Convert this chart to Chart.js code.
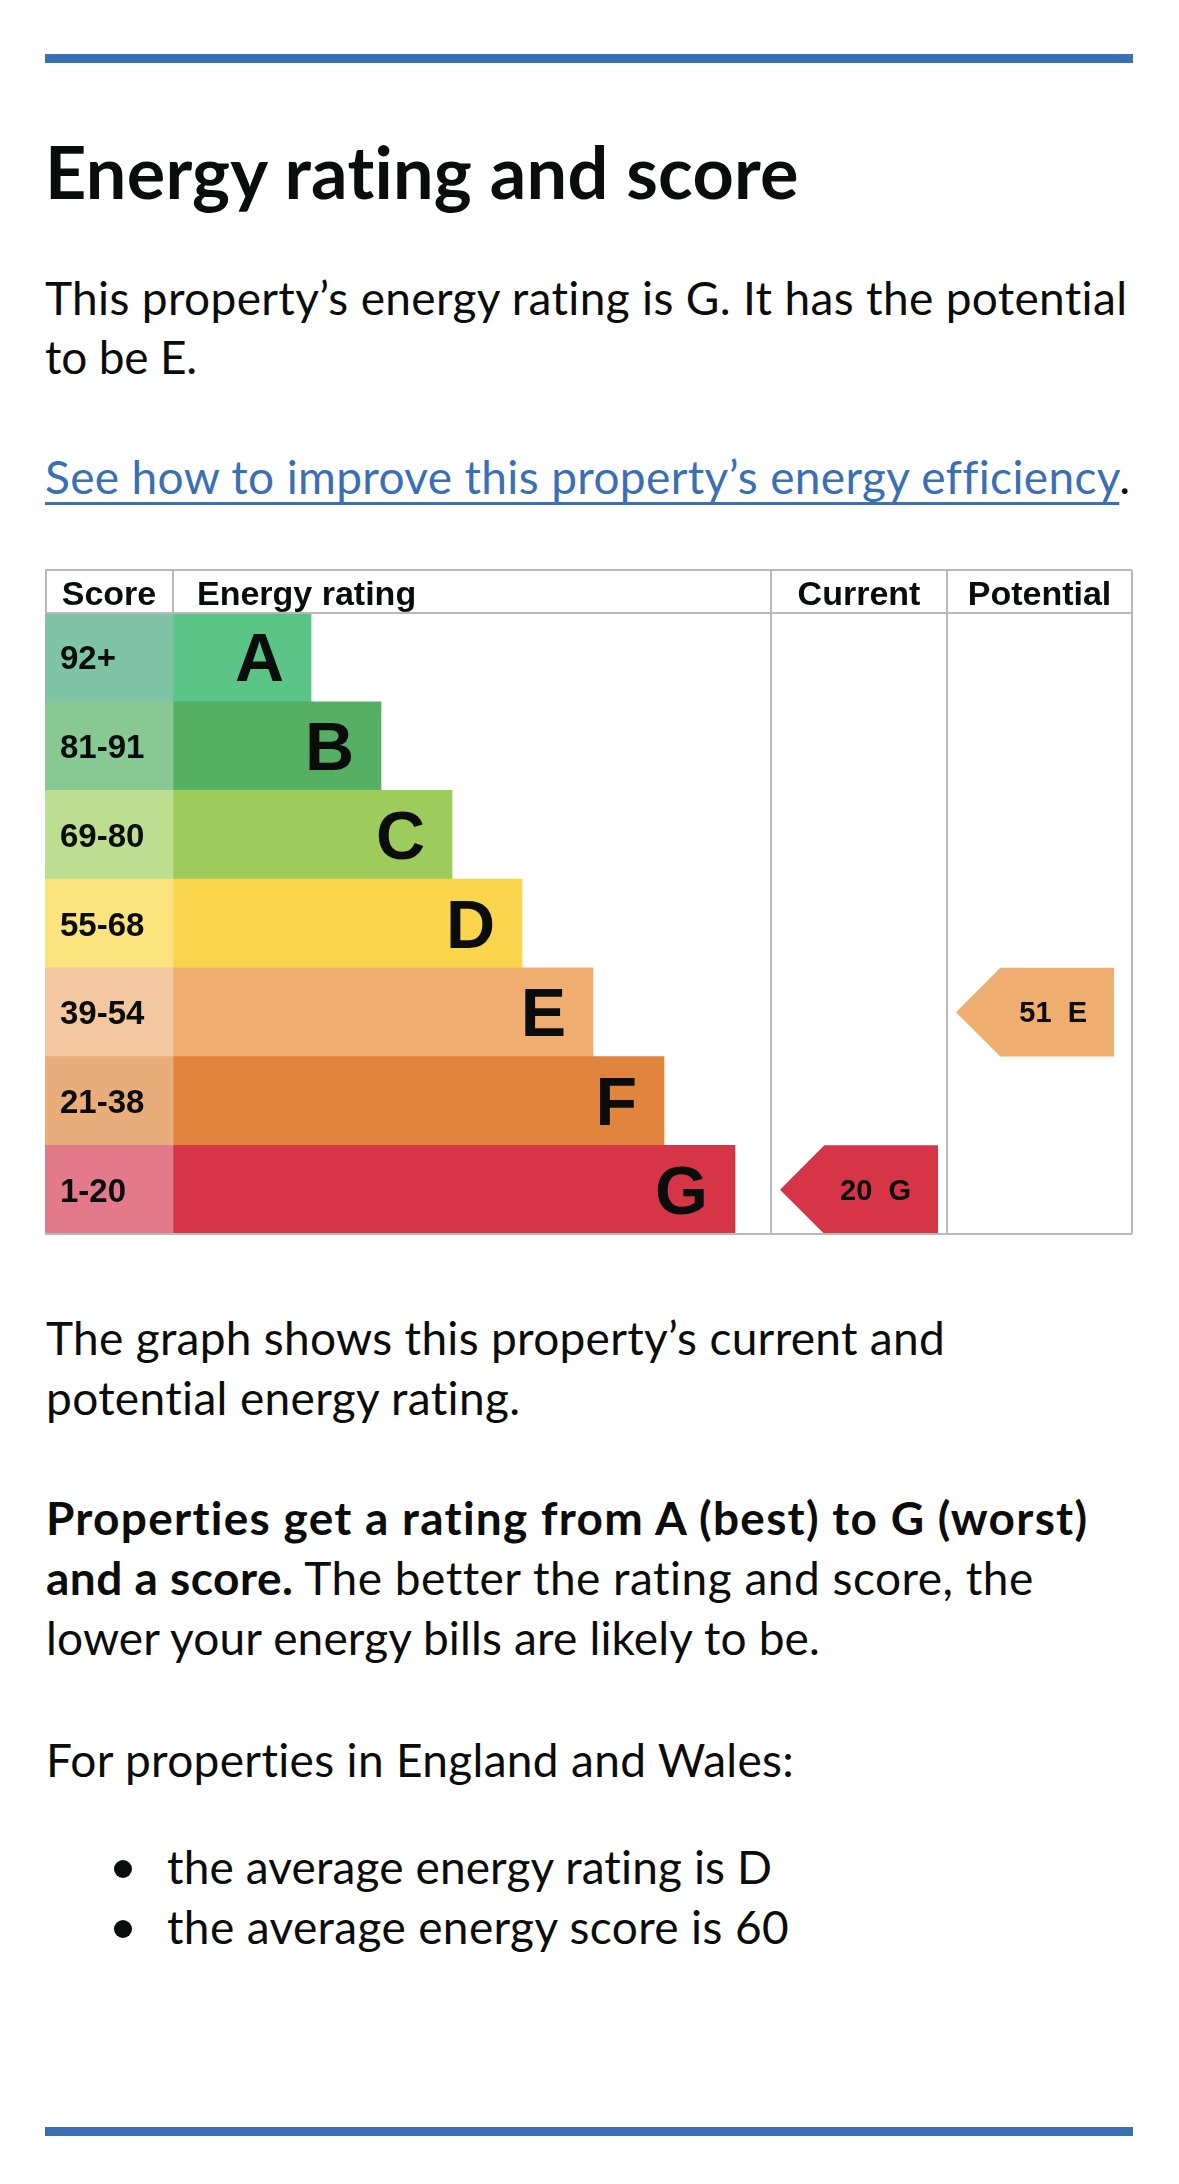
<!DOCTYPE html>
<html lang="en">
<head>
<meta charset="utf-8">
<title>Energy rating and score</title>
<script src="https://cdn.jsdelivr.net/npm/chart.js@4.4.1/dist/chart.umd.min.js"></script>
<style>
  html, body { margin: 0; padding: 0; background: #fff; }
  body { width: 1179px; height: 2184px; position: relative; overflow: hidden;
         font-family: Lato, "Noto Sans", sans-serif; color: #0b0c0c; }
  .rule { position: absolute; left: 45px; width: 1088px; height: 9px; background: #3b6fb4; }
  .line { position: absolute; white-space: nowrap; line-height: normal; }
  .body { font-size: 46px; font-weight: 400; }
  .bold { font-weight: 700; }
  .h1 { font-size: 72px; font-weight: 700; }
  .link { color: #3b6fb4; text-decoration: underline; text-decoration-thickness: 3px; text-underline-offset: 8px; }
  .dot { position: absolute; width: 18px; height: 18px; border-radius: 50%; background: #0b0c0c; }
  #chartBox { position: absolute; left: 45px; top: 569px; width: 1088px; height: 667px; }
</style>
</head>
<body>
<div class="rule" style="top:54px"></div>
<div class="rule" style="top:2127px"></div>
<div class="dot" style="left:114px; top:1860px"></div>
<div class="dot" style="left:114px; top:1920px"></div>
<div id="chartBox"><canvas id="epcChart" width="1088" height="667"></canvas></div>

<script>
// dữ liệu biểu đồ
const ratings = ['A', 'B', 'C', 'D', 'E', 'F', 'G'];
const scoreBands = ['92+', '81-91', '69-80', '55-68', '39-54', '21-38', '1-20'];
const barLengths = [138, 208, 279, 349, 420, 491, 562];
const barColours = ['#5bc587', '#55b064', '#9ecc5c', '#f8d54b', '#efad70', '#e0843e', '#d63547'];
const scoreColours = ['#7fc4a5', '#88c993', '#bddd91', '#fbe37e', '#f3c8a1', '#e9ad7b', '#e37a8b'];
const currentScore = 20, currentRating = 'G';
const potentialScore = 51, potentialRating = 'E';
const headers = ['Score', 'Energy rating', 'Current', 'Potential'];

// cột của bảng, theo đơn vị trục x
const cols = { score: [0, 128], rating: [128, 726], current: [726, 902], potential: [902, 1087] };
const arrowInset = 9, arrowWidth = 158;

// các dòng chữ của trang: [text, baseline, x, class, target width]
const textLines = [
    ['Energy rating and score', 199, 45, 'h1', 755],
    ['This property\u2019s energy rating is G. It has the potential', 315, 45, 'body', 1084],
    ['to be E.', 374, 45, 'body', 152],
    ['The graph shows this property\u2019s current and', 1355, 46, 'body', 899],
    ['potential energy rating.', 1415, 46, 'body', 476],
    ['<span class="bold">Properties get a rating from A (best) to G (worst)</span>', 1535, 46, 'body', 1044],
    ['<span class="bold">and a score.</span> The better the rating and score, the', 1595, 46, 'body', 987],
    ['lower your energy bills are likely to be.', 1655, 46, 'body', 774],
    ['For properties in England and Wales:', 1777, 46, 'body', 749],
    ['the average energy rating is D', 1884, 167, 'body', 606],
    ['the average energy score is 60', 1944, 167, 'body', 622],
    ['<span class="link">See how to improve this property\u2019s energy efficiency</span>.', 494, 45, 'body', 1083],
];

function placeLines() {
    textLines.forEach(([html, baseline, x, cls, target]) => {
        const div = document.createElement('div');
        div.className = 'line ' + cls;
        div.innerHTML = html + '<span style="display:inline-block;width:0;height:0;vertical-align:baseline"></span>';
        div.style.left = x + 'px';
        div.style.top = '0px';
        document.body.appendChild(div);
        const marker = div.lastChild;
        const natural = div.getBoundingClientRect().width;
        const n = div.textContent.length;
        if (target && n > 1) div.style.letterSpacing = ((target - natural) / n) + 'px';
        div.style.top = (baseline - marker.offsetTop) + 'px';
    });
}

const epcTable = {
    id: 'epcTable',
    afterDatasetsDraw(chart) {
        const { ctx, chartArea, scales: { x, y } } = chart;
        const top = 1, headBottom = chartArea.top, bottom = chartArea.bottom;
        ctx.save();

        // mũi tên Current / Potential
        [2, 3].forEach(di => {
            const ds = chart.data.datasets[di];
            chart.getDatasetMeta(di).data.forEach((el, i) => {
                if (!ds.data[i]) return;
                const p = el.getProps(['x', 'y', 'base', 'height'], true);
                const t = p.y - p.height / 2, b = p.y + p.height / 2, tip = p.height / 2;
                ctx.fillStyle = ds.arrowColour;
                ctx.beginPath();
                ctx.moveTo(p.base, p.y);
                ctx.lineTo(p.base + tip, t);
                ctx.lineTo(p.x, t);
                ctx.lineTo(p.x, b);
                ctx.lineTo(p.base + tip, b);
                ctx.closePath();
                ctx.fill();
                ctx.fillStyle = '#0b0c0c';
                ctx.font = 'bold 29px "Liberation Sans", Arial, sans-serif';
                ctx.textAlign = 'right';
                ctx.textBaseline = 'alphabetic';
                ctx.fillText(ds.arrowText, p.x - 27, p.y + 10);
            });
        });

        // chữ trong thanh và cột điểm
        ctx.fillStyle = '#0b0c0c';
        ctx.textBaseline = 'alphabetic';
        ratings.forEach((r, i) => {
            const cy = y.getPixelForValue(i);
            ctx.font = 'bold 68px "Liberation Sans", Arial, sans-serif';
            ctx.textAlign = 'right';
            ctx.fillText(r, x.getPixelForValue(cols.rating[0] + barLengths[i]) - 27, cy + 24);
            ctx.font = 'bold 33px "Liberation Sans", Arial, sans-serif';
            ctx.textAlign = 'left';
            ctx.fillText(scoreBands[i], x.getPixelForValue(15), cy + 12);
        });

        // tiêu đề cột
        ctx.font = 'bold 34px "Liberation Sans", Arial, sans-serif';
        const hy = 36;
        ctx.textAlign = 'center';
        ctx.fillText(headers[0], x.getPixelForValue((cols.score[0] + cols.score[1]) / 2), hy);
        ctx.fillText(headers[2], x.getPixelForValue((cols.current[0] + cols.current[1]) / 2), hy);
        ctx.fillText(headers[3], x.getPixelForValue((cols.potential[0] + cols.potential[1]) / 2), hy);
        ctx.textAlign = 'left';
        ctx.fillText(headers[1], x.getPixelForValue(cols.rating[0] + 24), hy);

        // đường kẻ bảng
        ctx.strokeStyle = '#b7b9bb';
        ctx.lineWidth = 2;
        const px = v => x.getPixelForValue(v);
        ctx.beginPath();
        ctx.moveTo(px(0), top); ctx.lineTo(px(cols.potential[1]), top);
        ctx.moveTo(px(0), headBottom); ctx.lineTo(px(cols.potential[1]), headBottom);
        ctx.moveTo(px(0), bottom); ctx.lineTo(px(cols.potential[1]), bottom);
        ctx.moveTo(px(0) + 1, top); ctx.lineTo(px(0) + 1, headBottom);
        ctx.moveTo(px(cols.rating[0]), top); ctx.lineTo(px(cols.rating[0]), headBottom);
        ctx.moveTo(px(cols.current[0]), top); ctx.lineTo(px(cols.current[0]), bottom);
        ctx.moveTo(px(cols.potential[0]), top); ctx.lineTo(px(cols.potential[0]), bottom);
        ctx.moveTo(px(cols.potential[1]), top); ctx.lineTo(px(cols.potential[1]), bottom);
        ctx.stroke();
        ctx.restore();
    }
};

function arrowData(rating, col) {
    return ratings.map(r => r === rating ? [col[0] + arrowInset, col[0] + arrowInset + arrowWidth] : null);
}

document.addEventListener('DOMContentLoaded', () => {
    const start = () => {
        placeLines();
        try {
            const ctx = document.getElementById('epcChart');
            new Chart(ctx.getContext('2d'), {
                type: 'bar',
                data: {
                    labels: ratings,
                    datasets: [
                        { data: ratings.map(() => cols.score.slice()), backgroundColor: scoreColours },
                        { data: barLengths.map(l => [cols.rating[0], cols.rating[0] + l]), backgroundColor: barColours },
                        { data: arrowData(currentRating, cols.current), backgroundColor: 'rgba(0,0,0,0)',
                          arrowColour: barColours[ratings.indexOf(currentRating)], arrowText: currentScore + '  ' + currentRating },
                        { data: arrowData(potentialRating, cols.potential), backgroundColor: 'rgba(0,0,0,0)',
                          arrowColour: barColours[ratings.indexOf(potentialRating)], arrowText: potentialScore + '  ' + potentialRating }
                    ]
                },
                options: {
                    indexAxis: 'y',
                    responsive: false,
                    animation: false,
                    layout: { padding: { top: 44, bottom: 2, left: 0, right: 0 } },
                    datasets: { bar: { grouped: false, categoryPercentage: 1, barPercentage: 1, borderWidth: 0 } },
                    scales: {
                        x: { type: 'linear', min: 0, max: 1088, display: false },
                        y: { display: false }
                    },
                    plugins: {
                        legend: { display: false },
                        tooltip: { enabled: false }
                    }
                },
                plugins: [epcTable]
            });
        } catch (e) {
            console.error('Chart render error', e);
        }
    };
    if (document.fonts && document.fonts.ready) document.fonts.ready.then(start); else start();
});
</script>
</body>
</html>
